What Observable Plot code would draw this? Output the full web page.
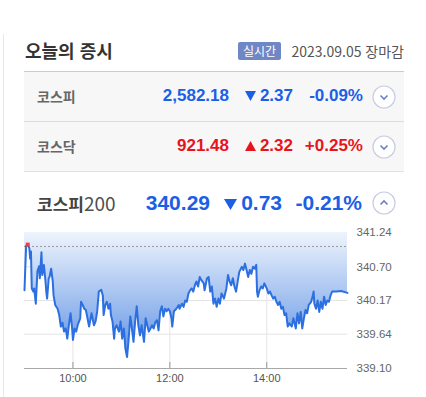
<!DOCTYPE html>
<html lang="ko">
<head>
<meta charset="utf-8">
<script src="https://cdn.jsdelivr.net/npm/d3@7"></script>
<script src="https://cdn.jsdelivr.net/npm/@observablehq/plot@0.6"></script>
<style>
  html, body { margin: 0; padding: 0; background: #fff; }
  body { width: 426px; height: 397px; position: relative; overflow: hidden; font-family: "Noto Sans CJK KR", "Noto Sans", sans-serif; }
  .abs { position: absolute; white-space: nowrap; }
  .num { font-family: "Liberation Sans", Arial, sans-serif; font-weight: bold; }
  .blue { color: #1b5fe6; }
  .red { color: #e8141b; }
  .circ { position: absolute; width: 24px; height: 24px; }
  .tri { display: inline-block; vertical-align: baseline; margin-right: 4px; }
</style>
</head>
<body>
<div class="abs" style="left:3px;top:34px;width:1px;height:363px;background:#e8e8e8;"></div>
<div class="abs" style="left:25px;top:37px;font-size:18px;font-weight:bold;color:#333;line-height:26px;">오늘의 증시</div>
<div class="abs" style="left:238px;top:42px;width:43px;height:18px;background:#6f87c4;color:#fff;font-size:12px;line-height:18px;text-align:center;border-radius:2px;">실시간</div>
<div class="abs" style="right:22px;top:40px;font-size:14px;color:#555;line-height:22px;">2023.09.05 장마감</div>
<div class="abs" style="left:24px;top:71px;width:380px;height:1px;background:#ccc;"></div>

<div class="abs" style="left:24px;top:72px;width:380px;height:49px;background:#f7f7f7;border-bottom:1px solid #ddd;"></div>
<div class="abs" style="left:24px;top:122px;width:380px;height:49px;background:#f7f7f7;border-bottom:1px solid #e2e2e2;"></div>

<div id="rows"></div>
<div id="chart" class="abs" style="left:0;top:225px;"></div>

<script>
// ---- header data ----
const marketNames = ["코스피", "코스닥"];
const marketValues = ["2,582.18", "921.48"];
const marketChanges = ["2.37", "2.32"];
const marketPercents = ["-0.09%", "+0.25%"];
const marketDirections = ["down", "up"];
const mainName = "코스피";
const mainSuffix = "200";
const mainValue = "340.29";
const mainChange = "0.73";
const mainPercent = "-0.21%";

// ---- chart data (minutes after 09:00, KOSPI200 index) ----
const times = [0,2,4,6,7,8,9,11,12,14,16,18,19,21,22,24,26,27,28,30,31,33,35,36,38,41,43,45,47,49,51,53,55,57,59,60,62,64,66,69,70,72,74,76,78,80,83,86,88,90,92,95,97,98,100,102,104,106,107,109,111,112,114,117,119,121,123,125,127,129,131,133,135,137,139,141,143,145,148,150,152,154,156,158,160,162,164,166,168,170,172,174,176,178,180,182,183,185,188,191,192,195,197,199,201,203,205,207,209,211,213,215,217,219,222,223,226,228,230,232,234,236,238,240,242,244,247,250,252,254,256,258,260,262,264,266,269,271,273,275,277,279,281,283,285,287,288,289,291,293,295,297,300,302,304,306,308,310,312,314,316,318,320,322,324,326,328,331,333,336,338,340,342,344,346,348,350,352,355,357,358,359,361,363,365,367,369,371,373,375,377,379,381,386,392,400];
const values = [340.33,341.03,341.05,340.99,340.83,340.94,340.36,340.31,340.36,340.12,340.63,340.71,340.52,340.93,340.57,340.73,340.47,340.31,340.20,340.52,340.54,340.67,340.47,340.25,340.10,340.04,339.94,339.76,339.82,339.68,339.73,339.57,339.79,339.97,339.73,339.55,339.73,339.68,339.79,339.89,340.15,340.10,340.04,340.02,339.89,339.76,339.97,339.78,339.84,340.00,340.31,340.34,340.25,339.94,340.10,340.15,340.04,340.12,339.94,339.84,339.57,339.73,339.78,339.68,339.84,339.57,339.73,339.41,339.28,339.57,339.92,339.73,339.52,339.84,340.08,339.78,339.62,339.78,339.52,339.89,339.78,339.68,339.73,339.78,339.73,339.83,339.86,339.70,340.00,340.08,339.92,340.04,340.00,340.04,340.00,339.89,339.76,340.00,340.04,340.10,340.04,340.12,340.07,340.17,340.15,340.28,340.33,340.36,340.31,340.41,340.47,340.39,340.54,340.49,340.44,340.33,340.52,340.54,340.31,340.39,340.12,340.20,340.07,340.20,340.12,340.28,340.20,340.36,340.57,340.47,340.41,340.52,340.39,340.31,340.47,340.62,340.70,340.65,340.75,340.65,340.54,340.65,340.59,340.70,340.67,340.73,340.31,340.23,340.33,340.39,340.36,340.44,340.36,340.28,340.31,340.25,340.20,340.23,340.15,340.10,340.15,340.04,340.07,339.94,339.97,339.76,339.81,339.76,339.89,339.73,339.97,339.81,339.99,339.73,339.89,340.02,339.97,340.10,340.15,340.25,340.31,340.12,340.04,340.17,339.99,340.15,340.04,340.23,340.10,340.17,340.15,340.25,340.31,340.31,340.32,340.29];
const prevClose = 341.02;
const yTicks = [339.10, 339.64, 340.17, 340.70, 341.24];
const xTickMinutes = [60, 180, 300];
const xTickLabels = ["10:00", "12:00", "14:00"];

// ---- header rows ----
function triangle(dir, w, h, color) {
  const pts = dir === "down" ? `0,0 ${w},0 ${w/2},${h}` : `0,${h} ${w},${h} ${w/2},0`;
  return `<svg class="tri" width="${w}" height="${h}"><polygon points="${pts}" fill="${color}"/></svg>`;
}
function circleIcon(dir) {
  const path = dir === "down" ? "M8.5,10.5 L12,14 L15.5,10.5" : "M8.5,13.5 L12,10 L15.5,13.5";
  return `<svg width="24" height="24"><circle cx="12" cy="12" r="11" fill="#fff" stroke="#c9cde0" stroke-width="1.2"/><path d="${path}" fill="none" stroke="#6a80c4" stroke-width="1.6"/></svg>`;
}
const rows = document.getElementById("rows");
let html = "";
const rowTops = [86, 136];
marketNames.forEach((name, i) => {
  const cls = marketDirections[i] === "down" ? "blue" : "red";
  const col = marketDirections[i] === "down" ? "#1b5fe6" : "#e8141b";
  const top = rowTops[i];
  html += `<div class="abs" style="left:37px;top:${top - 2}px;font-size:14px;font-weight:bold;color:#666;line-height:24px;">${name}</div>`;
  html += `<div class="abs num ${cls}" style="right:197px;top:${top}px;font-size:17px;line-height:20px;">${marketValues[i]}</div>`;
  html += `<div class="abs num ${cls}" style="right:133px;top:${top}px;font-size:17px;line-height:20px;">${triangle(marketDirections[i], 11, 10, col)}${marketChanges[i]}</div>`;
  html += `<div class="abs num ${cls}" style="right:63px;top:${top}px;font-size:17px;line-height:20px;">${marketPercents[i]}</div>`;
  html += `<div class="circ" style="left:372px;top:${top - 1}px;">${circleIcon("down")}</div>`;
});
html += `<div class="abs" style="left:37px;top:188px;line-height:30px;color:#444;"><span style="font-size:17px;font-weight:bold;">${mainName}</span><span style="font-size:19px;color:#505050;">${mainSuffix}</span></div>`;
html += `<div class="abs num blue" style="right:216px;top:190px;font-size:21px;line-height:26px;">${mainValue}</div>`;
html += `<div class="abs num blue" style="right:144px;top:190px;font-size:21px;line-height:26px;">${triangle("down", 13, 11, "#1b5fe6")}${mainChange}</div>`;
html += `<div class="abs num blue" style="right:64px;top:190px;font-size:21px;line-height:26px;">${mainPercent}</div>`;
html += `<div class="circ" style="left:372px;top:191px;">${circleIcon("up")}</div>`;
rows.innerHTML = html;

// ---- chart ----
const data = times.map((t, i) => ({t, v: values[i]}));
const yTop = yTicks[yTicks.length - 1];
const yBottom = yTicks[0];
const high = d3.greatest(data, d => d.v);

const gradientDefs = () => {
  const ns = "http://www.w3.org/2000/svg";
  const defs = document.createElementNS(ns, "defs");
  const lg = document.createElementNS(ns, "linearGradient");
  lg.setAttribute("id", "kospiFill");
  lg.setAttribute("x1", "0"); lg.setAttribute("y1", "0");
  lg.setAttribute("x2", "0"); lg.setAttribute("y2", "1");
  [["0%", "#eef4fd"], ["100%", "#5f93e4"]].forEach(([o, c]) => {
    const s = document.createElementNS(ns, "stop");
    s.setAttribute("offset", o); s.setAttribute("stop-color", c);
    lg.appendChild(s);
  });
  defs.appendChild(lg);
  return defs;
};

const chart = Plot.plot({
  width: 426,
  height: 171,
  marginLeft: 24,
  marginRight: 79,
  marginTop: 7,
  marginBottom: 28,
  style: {fontFamily: "'Liberation Sans', Arial, sans-serif", fontSize: "11px", color: "#555", background: "transparent"},
  x: {domain: [0, 400]},
  y: {domain: [yBottom, yTop]},
  marks: [
    gradientDefs,
    Plot.gridY(yTicks, {stroke: "#e4e4e4", strokeOpacity: 1}),
    Plot.gridX(xTickMinutes, {stroke: "#e4e4e4", strokeOpacity: 1}),
    Plot.areaY(data, {x: "t", y1: "v", y2: () => yTop, fill: "url(#kospiFill)"}),
    Plot.ruleY([prevClose], {stroke: "#9a9a9a", strokeDasharray: "2,2"}),
    Plot.line(data, {x: "t", y: "v", stroke: "#2b6fe0", strokeWidth: 2}),
    Plot.dot([high], {x: "t", y: "v", symbol: "square", r: 2.2, fill: "#f03c3c"}),
    Plot.ruleY([yBottom], {stroke: "#a8a8a8"}),
    Plot.ruleX(xTickMinutes, {y1: () => yBottom, y2: () => yBottom, insetTop: -6, stroke: "#999"}),
    Plot.axisX(xTickMinutes, {tickSize: 0, tickPadding: 6, tickFormat: (d) => xTickLabels[xTickMinutes.indexOf(d)], fill: "#555", fontSize: 11, label: null}),
    Plot.axisY(yTicks, {anchor: "right", tickSize: 0, tickPadding: 9, tickFormat: d => d.toFixed(2), fill: "#666", fontSize: 11.5, label: null})
  ]
});
document.getElementById("chart").appendChild(chart);
</script>
</body>
</html>
